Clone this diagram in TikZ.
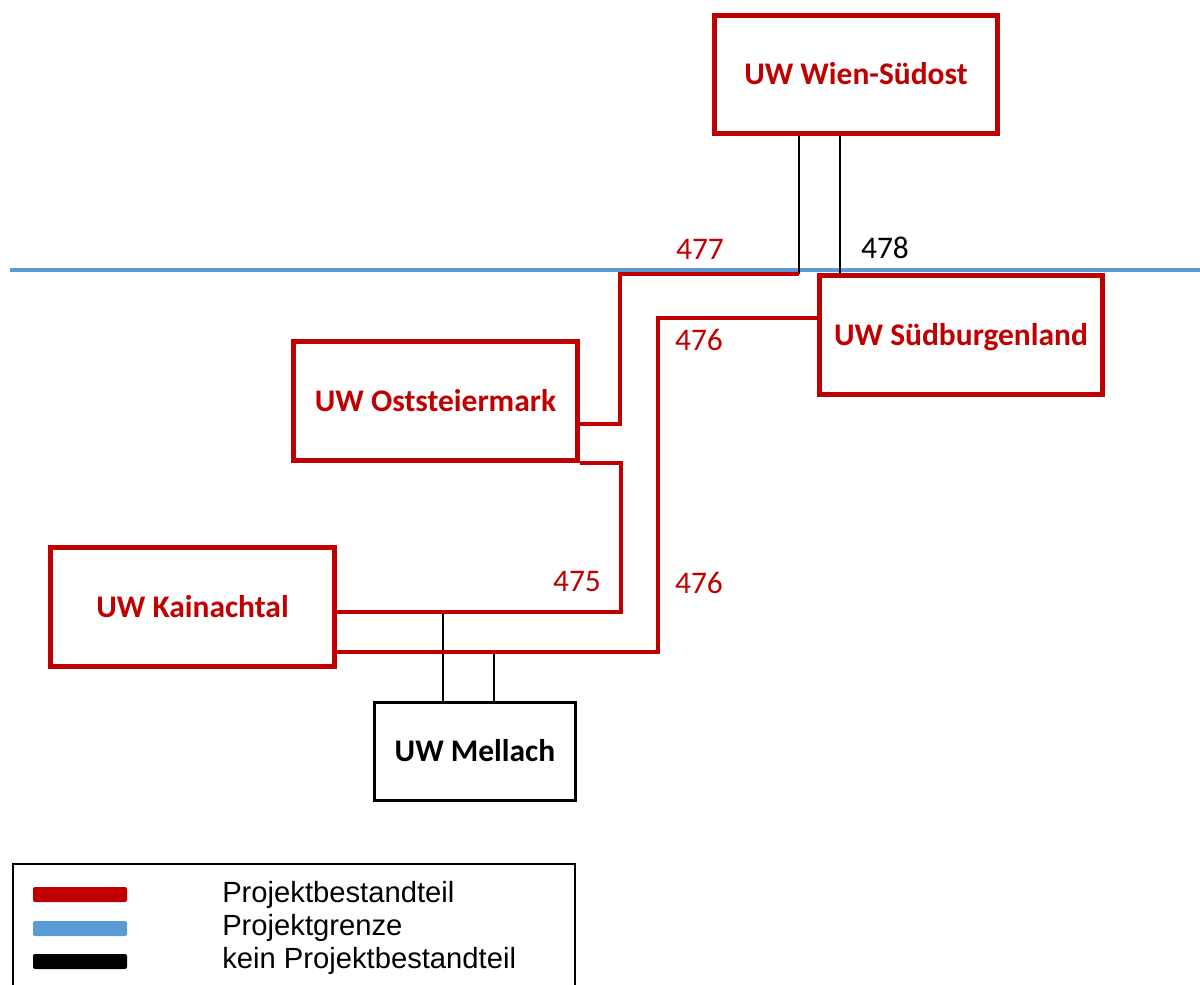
\documentclass[tikz,border=0pt]{standalone}
\usepackage{fontspec}
\setmainfont{Carlito}
\newfontfamily\legfont{Liberation Sans}
\usepackage{tikz}
\definecolor{uwred}{RGB}{192,0,0}
\definecolor{grenzblue}{RGB}{91,155,213}
\tikzset{uw/.style={draw=uwred,line width=3.75pt,text=uwred,minimum width=212.6pt,minimum height=89pt,inner sep=0pt,font=\bfseries\fontsize{23.6}{28}\selectfont,text height=15.2pt,text depth=0pt},uwext/.style={uw,draw=black,text=black,line width=2.25pt,minimum width=150.75pt,minimum height=73.5pt},lbl/.style={text=uwred,inner sep=0pt,font=\fontsize{23.6}{28}\selectfont,text height=14.9pt,text depth=0pt},lblext/.style={lbl,text=black},proj/.style={draw=uwred,line width=3pt},ext/.style={draw=black,line width=1.5pt},grenze/.style={draw=grenzblue,line width=3.4pt},rahmen/.style={draw=black,line width=1.5pt},swatch/.style={rounded corners=1.5pt},legtxt/.style={anchor=base west,inner sep=0pt,font=\legfont\fontsize{21.9}{26}\selectfont}}

\begin{document}
\begin{tikzpicture}[x=0.75pt,y=-0.75pt]
\useasboundingbox (0,0) rectangle (1200,985);
\coordinate (gw) at (10,270); \coordinate (go) at (1200,270);
\draw[grenze] (gw)--(go);
\node[uw] (wien) at (856,74.5) {UW Wien-Südost};
\node[uw] (suedbgld) at (961,335) {UW Südburgenland};
\node[uw] (oststmk) at (435.5,401) {UW Oststeiermark};
\node[uw] (kainach) at (192.5,607) {UW Kainachtal};
\node[uwext] (mellach) at (475,751.5) {UW Mellach};
\coordinate (t477) at (799,274); \coordinate (t478) at (840,274);
\coordinate (k477) at (620,424);
\coordinate (k476) at (658,318); \coordinate (k476b) at (658,652);
\coordinate (k475) at (621,612);
\coordinate (m475) at (443,612); \coordinate (m476) at (494,652);
\draw[ext] (t477 |- wien.south)--(t477); \draw[ext] (t478 |- wien.south)--(t478);
\draw[ext] (m475)--(m475 |- mellach.north); \draw[ext] (m476)--(m476 |- mellach.north);
\draw[proj] (t477) -| (k477)--(k477 -| oststmk.east);
\draw[proj] (k476 -| suedbgld.west)--(k476)--(k476b)--(k476b -| kainach.east);
\draw[proj] (oststmk.south east) -| (k475)--(k475 -| kainach.east);
\node[lbl] (n477) at (700,250) {477};
\node[lblext] (n478) at (885,249) {478};
\node[lbl] (n476a) at (699,341) {476};
\node[lbl] (n476b) at (699,584) {476};
\node[lbl] (n475) at (577,582) {475};
\draw[rahmen] (12.5,985) |- (574.5,864)--(574.5,985);
\fill[uwred,swatch] (33,887) rectangle (127,902);
\fill[grenzblue,swatch] (33,921) rectangle (127,936);
\fill[black,swatch] (33,954) rectangle (127,969);
\node[legtxt] (lproj) at (222,902) {Projektbestandteil};
\node[legtxt] (lgrenze) at (222,935) {Projektgrenze};
\node[legtxt] (lext) at (222,968) {kein Projektbestandteil};
\end{tikzpicture}
\end{document}
